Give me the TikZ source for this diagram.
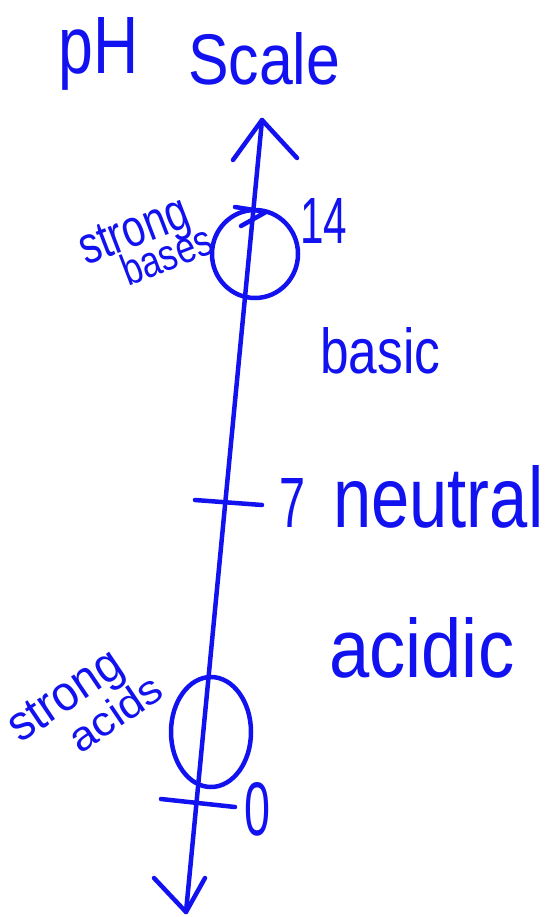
\documentclass[tikz,border=0pt]{standalone}
\usepackage{fontspec}
\setmainfont{Liberation Sans}
\usepackage{graphicx}
\usetikzlibrary{shapes.geometric}
\definecolor{ink}{RGB}{18,18,240}
\newcommand{\hw}[3]{\resizebox{#1pt}{#2pt}{#3}}
\begin{document}
\begin{tikzpicture}[x=1pt,y=-1pt,
  inkline/.style={draw=ink, line width=4.5pt, line cap=round, line join=round},
  hand/.style={inner sep=0pt, text=ink, anchor=base west},
  blob/.style={draw=ink, line width=4.5pt, ellipse, inner sep=0pt}]
\useasboundingbox (0,0) rectangle (548,917);
% title
\node[hand] (ph) at (58,74) {\hw{80}{56}{pH}};
\node[hand] (scale) at (188,85) {\hw{152}{52}{Scale}};
% axis
\coordinate (top) at (262,120);
\coordinate (bot) at (186,912);
\coordinate (tl) at (233,160);
\coordinate (tr) at (297,158);
\coordinate (bl) at (154,878);
\coordinate (br) at (205,878);
\draw[inkline] (top) -- (bot);
\draw[inkline] (tl) -- (top) -- (tr);
\draw[inkline] (bl) -- (bot) -- (br);
% 14 mark and circle
\coordinate (m1) at (235,207);
\coordinate (m2) at (266,212);
\coordinate (m3) at (241,226);
\draw[inkline] (m1) -- (m2) -- (m3);
\node[blob, minimum width=86pt, minimum height=88pt] (c14) at (255,254) {};
\node[hand] (n14) at (300,243) {\hw{47}{45}{14}};
\node[hand, rotate=21] (sb) at (86,266)
  {\rlap{\hw{114}{34}{strong}}\hspace*{32pt}\raisebox{-34pt}{\hw{94}{32}{bases}}};
% labels
\node[hand] (basic) at (320,373) {\hw{120}{46}{basic}};
\coordinate (t7a) at (195,500);
\coordinate (t7b) at (262,505);
\draw[inkline] (t7a) -- (t7b);
\node[hand] (n7) at (279,527) {\hw{26}{49}{7}};
\node[hand] (neutral) at (333,527) {\hw{210}{62}{neutral}};
\node[hand] (acidic) at (329,677) {\hw{185}{60}{acidic}};
% 0 mark and circle
\node[blob, minimum width=80pt, minimum height=110pt] (c0) at (211,732) {};
\coordinate (t0a) at (161,799);
\coordinate (t0b) at (235,807);
\draw[inkline] (t0a) -- (t0b);
\node[hand] (n0) at (244,835) {\hw{26}{53}{0}};
\node[hand, rotate=34] (sa) at (20,744)
  {\rlap{\hw{128}{32}{strong}}\hspace*{44pt}\raisebox{-42pt}{\hw{104}{30}{acids}}};
\end{tikzpicture}
\end{document}
